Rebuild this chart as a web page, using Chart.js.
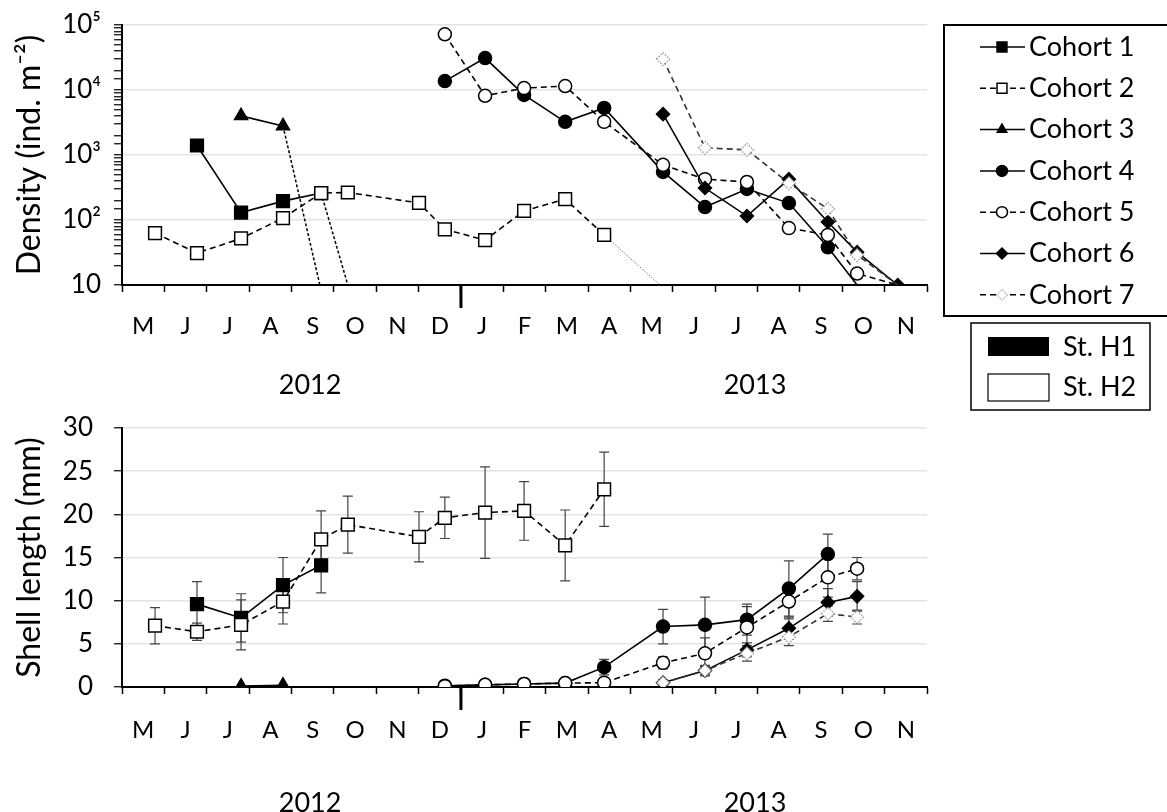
<!DOCTYPE html>
<html>
<head>
<meta charset="utf-8">
<script src="https://cdn.jsdelivr.net/npm/chart.js@4.4.1/dist/chart.umd.min.js"></script>
<style>
body { margin: 0; background: #fff; }
#wrap { position: relative; width: 1167px; height: 812px; }
#topChart { position: absolute; left: 0; top: 0; }
#botChart { position: absolute; left: 0; top: 405px; }
</style>
</head>
<body>
<div id="wrap">
<canvas id="topChart" width="1167" height="415"></canvas>
<canvas id="botChart" width="1167" height="407"></canvas>
</div>
<script>
// x = months counted from the start of May 2012 (8 = start of Jan 2013)
const months = ['M','J','J','A','S','O','N','D','J','F','M','A','M','J','J','A','S','O','N'];
const years = ['2012', '2013'];
const yearCenters = [4.44, 14.94];
const newYearAt = 8;
const densityTicks = ['10', '10²', '10³', '10⁴', '10⁵'];
const densityFloor = 10;

// Cohort 1
const c1Dates = [1.77, 2.81, 3.80, 4.70];
const c1Density = [1400, 130, 195, 260];
const c1Lost = 5.33;
const c1Length = [9.6, 8.0, 11.8, 14.1];
const c1SD = [2.6, 2.8, 3.2, 3.2];

// Cohort 2
const c2Dates = [0.78, 1.77, 2.81, 3.80, 4.70, 5.33, 7.01, 7.62, 8.57, 9.49, 10.46, 11.38];
const c2Density = [63, 31, 52, 107, 260, 265, 183, 72, 49, 138, 209, 59];
const c2Lost = 12.7;
const c2Length = [7.1, 6.4, 7.2, 9.9, 17.1, 18.8, 17.4, 19.6, 20.2, 20.4, 16.4, 22.9];
const c2SD = [2.1, 1.0, 2.9, 2.6, 3.3, 3.3, 2.9, 2.4, 5.3, 3.4, 4.1, 4.3];

// Cohort 3
const c3Dates = [2.81, 3.80];
const c3Density = [4000, 2800];
const c3Lost = 4.67;
const c3Length = [0.1, 0.2];
const c3SD = [0, 0];

// Cohort 4
const c4Dates = [7.62, 8.57, 9.49, 10.46, 11.38, 12.77, 13.76, 14.75, 15.74, 16.66];
const c4Density = [13700, 31000, 8400, 3240, 5300, 550, 158, 300, 182, 38];
const c4Lost = 17.35;
const c4Length = [0.15, 0.25, 0.35, 0.45, 2.3, 7.0, 7.2, 7.8, 11.4, 15.4];
const c4SD = [0, 0, 0, 0, 0.9, 2.0, 3.2, 1.8, 3.2, 2.3];

// Cohort 5
const c5Dates = [7.62, 8.57, 9.49, 10.46, 11.38, 12.77, 13.76, 14.75, 15.74, 16.66, 17.35];
const c5Density = [72000, 8150, 10700, 11500, 3240, 705, 425, 385, 75, 59, 15];
const c5Lost = 18.31;
const c5Length = [0.1, 0.25, 0.35, 0.45, 0.5, 2.8, 3.9, 6.9, 9.9, 12.7, 13.7];
const c5SD = [0, 0, 0, 0, 0.2, 0.7, 1.8, 2.4, 2.0, 2.3, 1.3];

// Cohort 6
const c6Dates = [12.77, 13.76, 14.75, 15.74, 16.66, 17.35, 18.31];
const c6Density = [4250, 310, 115, 425, 93, 32, 10];
const c6Length = [0.5, 1.9, 4.3, 6.8, 9.8, 10.5];
const c6SD = [0.3, 0.5, 0.8, 1.3, 1.6, 1.7];

// Cohort 7
const c7Dates = [12.77, 13.76, 14.75, 15.74, 16.66, 17.35];
const c7Density = [30000, 1290, 1200, 370, 148, 29];
const c7Lost = 18.31;
const c7Length = [0.5, 1.9, 3.9, 5.8, 8.5, 8.1];
const c7SD = [0.3, 0.6, 0.9, 1.0, 0.9, 0.8];

Chart.defaults.font.family = 'Lato';
Chart.defaults.color = '#000';

// dotted grey diamond for cohort 7
const dottedDiamond = document.createElement('canvas');
dottedDiamond.width = 16;
dottedDiamond.height = 16;
(function () {
    const g = dottedDiamond.getContext('2d');
    g.beginPath();
    g.moveTo(1.5, 8); g.lineTo(8, 1.5); g.lineTo(14.5, 8); g.lineTo(8, 14.5); g.closePath();
    g.fillStyle = '#fff';
    g.fill();
    g.setLineDash([1.5, 1.5]);
    g.lineWidth = 1.2;
    g.strokeStyle = '#888';
    g.stroke();
})();

const cohorts = [
    { label: 'Cohort 1', shape: 'rect', r: 9, fill: '#000', dash: [] },
    { label: 'Cohort 2', shape: 'rect', r: 9, fill: '#fff', dash: [6, 4] },
    { label: 'Cohort 3', shape: 'triangle', r: 7.5, fill: '#000', dash: [] },
    { label: 'Cohort 4', shape: 'circle', r: 6.5, fill: '#000', dash: [] },
    { label: 'Cohort 5', shape: 'circle', r: 6.5, fill: '#fff', dash: [6, 4] },
    { label: 'Cohort 6', shape: 'rectRot', r: 6.5, fill: '#000', dash: [] },
    { label: 'Cohort 7', shape: dottedDiamond, r: 8, fill: '#fff', dash: [6, 4] }
];

const dropStyles = {
    short: { dash: [3, 2], color: '#000', width: 1.5 },
    dotted: { dash: [1.5, 1.5], color: '#777', width: 1 }
};

function makeSet(i, dates, values, lost, drop, sd) {
    const st = cohorts[i];
    const data = values.map((v, k) => ({ x: dates[k], y: v }));
    if (lost !== undefined) data.push({ x: lost, y: densityFloor, lost: true });
    const ds = dropStyles[drop];
    return {
        label: st.label,
        data: data,
        sd: sd,
        order: 7 - i,
        borderColor: i === 6 ? '#333' : '#000',
        borderWidth: 1.6,
        borderDash: st.dash,
        pointStyle: st.shape,
        pointBackgroundColor: st.fill,
        pointBorderColor: '#000',
        pointBorderWidth: 1.5,
        pointRadius: c => (c.raw && c.raw.lost) ? 0 : st.r,
        pointHoverRadius: c => (c.raw && c.raw.lost) ? 0 : st.r,
        tension: 0,
        segment: {
            borderDash: c => (ds && data[c.p1DataIndex].lost) ? ds.dash : undefined,
            borderColor: c => (ds && data[c.p1DataIndex].lost) ? ds.color : undefined,
            borderWidth: c => (ds && data[c.p1DataIndex].lost) ? ds.width : undefined
        }
    };
}

function drawMarker(ctx, shape, x, y, r, fill) {
    if (shape instanceof HTMLCanvasElement) {
        ctx.drawImage(shape, x - 6.5, y - 6.5, 13, 13);
        return;
    }
    ctx.beginPath();
    if (shape === 'circle') ctx.arc(x, y, r, 0, Math.PI * 2);
    else if (shape === 'rect') ctx.rect(x - r * 0.707, y - r * 0.707, r * 1.414, r * 1.414);
    else if (shape === 'triangle') {
        ctx.moveTo(x, y - r); ctx.lineTo(x + r * 0.866, y + r / 2); ctx.lineTo(x - r * 0.866, y + r / 2); ctx.closePath();
    } else {
        ctx.moveTo(x - r, y); ctx.lineTo(x, y - r); ctx.lineTo(x + r, y); ctx.lineTo(x, y + r); ctx.closePath();
    }
    ctx.fillStyle = fill;
    ctx.fill();
    ctx.lineWidth = 1.5;
    ctx.strokeStyle = '#000';
    ctx.stroke();
}

const errorBars = {
    id: 'errorBars',
    beforeDatasetsDraw(chart) {
        const ctx = chart.ctx, xs = chart.scales.x, ys = chart.scales.y;
        ctx.save();
        ctx.strokeStyle = '#444';
        ctx.lineWidth = 1.2;
        chart.data.datasets.forEach(ds => {
            if (!ds.sd) return;
            ds.data.forEach((p, i) => {
                const e = ds.sd[i];
                if (!e) return;
                const x = xs.getPixelForValue(p.x);
                const y1 = ys.getPixelForValue(p.y + e);
                const y2 = ys.getPixelForValue(Math.max(0, p.y - e));
                ctx.beginPath();
                ctx.moveTo(x, y1); ctx.lineTo(x, y2);
                ctx.moveTo(x - 5, y1); ctx.lineTo(x + 5, y1);
                ctx.moveTo(x - 5, y2); ctx.lineTo(x + 5, y2);
                ctx.stroke();
            });
        });
        ctx.restore();
    }
};

// long tick marking the change of year
const yearTick = {
    id: 'yearTick',
    afterDraw(chart) {
        const ctx = chart.ctx;
        const x = chart.scales.x.getPixelForValue(newYearAt);
        ctx.save();
        ctx.strokeStyle = '#000';
        ctx.lineWidth = 3;
        ctx.beginPath();
        ctx.moveTo(x, chart.chartArea.bottom);
        ctx.lineTo(x, chart.chartArea.bottom + 23);
        ctx.stroke();
        ctx.restore();
    }
};

const legendBox = {
    id: 'legendBox',
    afterDraw(chart) {
        const ctx = chart.ctx;
        ctx.save();
        ctx.lineWidth = 2;
        ctx.strokeStyle = '#000';
        ctx.strokeRect(944, 25, 240, 291);
        ctx.font = '27px Lato';
        ctx.textBaseline = 'middle';
        cohorts.forEach((st, i) => {
            const y = 47 + i * 41.3;
            ctx.setLineDash(st.dash);
            ctx.lineWidth = 1.5;
            ctx.strokeStyle = '#000';
            ctx.beginPath(); ctx.moveTo(980, y); ctx.lineTo(1025, y); ctx.stroke();
            ctx.setLineDash([]);
            drawMarker(ctx, st.shape, 1002, y, st.shape === 'rect' ? 7 : 5.5, st.fill);
            ctx.fillStyle = '#000';
            ctx.fillText(st.label, 1029, y);
        });
        // station key
        ctx.lineWidth = 1.5;
        ctx.strokeStyle = '#000';
        ctx.strokeRect(971, 323, 179, 87);
        ctx.fillStyle = '#000';
        ctx.fillRect(988, 337, 61, 19);
        ctx.lineWidth = 1.2;
        ctx.strokeRect(988, 374, 61, 27);
        ctx.fillText('St. H1', 1063, 347);
        ctx.fillText('St. H2', 1063, 387);
        ctx.restore();
    }
};

function monthAxis(pad, h) {
    return {
        type: 'linear',
        min: 0,
        max: months.length,
        afterBuildTicks: s => {
            const t = [];
            for (let i = 0; i <= months.length; i++) {
                t.push({ value: i });
                if (i < months.length) t.push({ value: i + 0.5 });
            }
            s.ticks = t;
        },
        ticks: {
            autoSkip: false, maxRotation: 0, padding: pad, font: { size: 24 },
            callback: v => Number.isInteger(v) ? '' : months[Math.floor(v)]
        },
        grid: {
            drawOnChartArea: false, tickLength: 7, tickWidth: 1.5,
            tickColor: c => Number.isInteger(c.tick.value) ? '#000' : 'rgba(0,0,0,0)'
        },
        border: { color: '#000', width: 2 },
        afterFit: s => { s.height = h; }
    };
}

function yearAxis(pad, h) {
    return {
        type: 'linear',
        position: 'bottom',
        weight: 10,
        min: 0,
        max: months.length,
        afterBuildTicks: s => { s.ticks = yearCenters.map(v => ({ value: v })); },
        ticks: { autoSkip: false, maxRotation: 0, padding: pad, font: { size: 27 }, callback: (v, i) => years[i] },
        grid: { display: false },
        border: { display: false },
        afterFit: s => { s.height = h; }
    };
}

// fixed-width y axis that asks for no extra room above or below the plot
const fixY = s => { s.width = 122; s.paddingTop = 0; s.paddingBottom = 0; };

const isDecade = v => Math.abs(Math.log10(v) - Math.round(Math.log10(v))) < 1e-9;

new Chart(document.getElementById('topChart'), {
    type: 'line',
    data: {
        datasets: [
            makeSet(0, c1Dates, c1Density, c1Lost, 'short'),
            makeSet(1, c2Dates, c2Density, c2Lost, 'dotted'),
            makeSet(2, c3Dates, c3Density, c3Lost, 'short'),
            makeSet(3, c4Dates, c4Density, c4Lost),
            makeSet(4, c5Dates, c5Density, c5Lost),
            makeSet(5, c6Dates, c6Density),
            makeSet(6, c7Dates, c7Density, c7Lost)
        ]
    },
    options: {
        responsive: false,
        animation: false,
        layout: { padding: { left: 0, right: 240, top: 25, bottom: 0 } },
        plugins: { legend: { display: false }, tooltip: { enabled: false } },
        scales: {
            x: monthAxis(20, 60),
            yr: yearAxis(16, 70),
            y: {
                type: 'logarithmic',
                min: 10,
                max: 100000,
                afterFit: fixY,
                ticks: {
                    autoSkip: false, padding: 13, font: { size: 26 },
                    callback: v => isDecade(v) ? densityTicks[Math.round(Math.log10(v)) - 1] : ''
                },
                grid: {
                    color: c => (isDecade(c.tick.value) && c.tick.value > 10) ? '#e4e4e4' : 'rgba(0,0,0,0)',
                    lineWidth: 1.5, tickColor: '#000', tickLength: 8, tickWidth: 1.2
                },
                border: { color: '#000', width: 2 },
                title: { display: true, text: 'Density (ind. m⁻²)', font: { size: 32 }, padding: { top: 10, bottom: 0 } }
            }
        }
    },
    plugins: [yearTick, legendBox]
});

new Chart(document.getElementById('botChart'), {
    type: 'line',
    data: {
        datasets: [
            makeSet(0, c1Dates, c1Length, undefined, undefined, c1SD),
            makeSet(1, c2Dates, c2Length, undefined, undefined, c2SD),
            makeSet(2, c3Dates, c3Length, undefined, undefined, c3SD),
            makeSet(3, c4Dates, c4Length, undefined, undefined, c4SD),
            makeSet(4, c5Dates, c5Length, undefined, undefined, c5SD),
            makeSet(5, c6Dates, c6Length, undefined, undefined, c6SD),
            makeSet(6, c7Dates, c7Length, undefined, undefined, c7SD)
        ]
    },
    options: {
        responsive: false,
        animation: false,
        layout: { padding: { left: 0, right: 240, top: 23, bottom: 0 } },
        plugins: { legend: { display: false }, tooltip: { enabled: false } },
        scales: {
            x: monthAxis(22, 64),
            yr: yearAxis(28, 61),
            y: {
                min: 0,
                max: 30,
                afterFit: fixY,
                ticks: { stepSize: 5, padding: 21, font: { size: 26 } },
                grid: {
                    color: c => c.tick.value === 0 ? 'rgba(0,0,0,0)' : '#e4e4e4',
                    lineWidth: 1.5, tickColor: '#000', tickLength: 8, tickWidth: 1.2
                },
                border: { color: '#000', width: 2 },
                title: { display: true, text: 'Shell length (mm)', font: { size: 32 }, padding: { top: 10, bottom: 0 } }
            }
        }
    },
    plugins: [errorBars, yearTick]
});
</script>
</body>
</html>
